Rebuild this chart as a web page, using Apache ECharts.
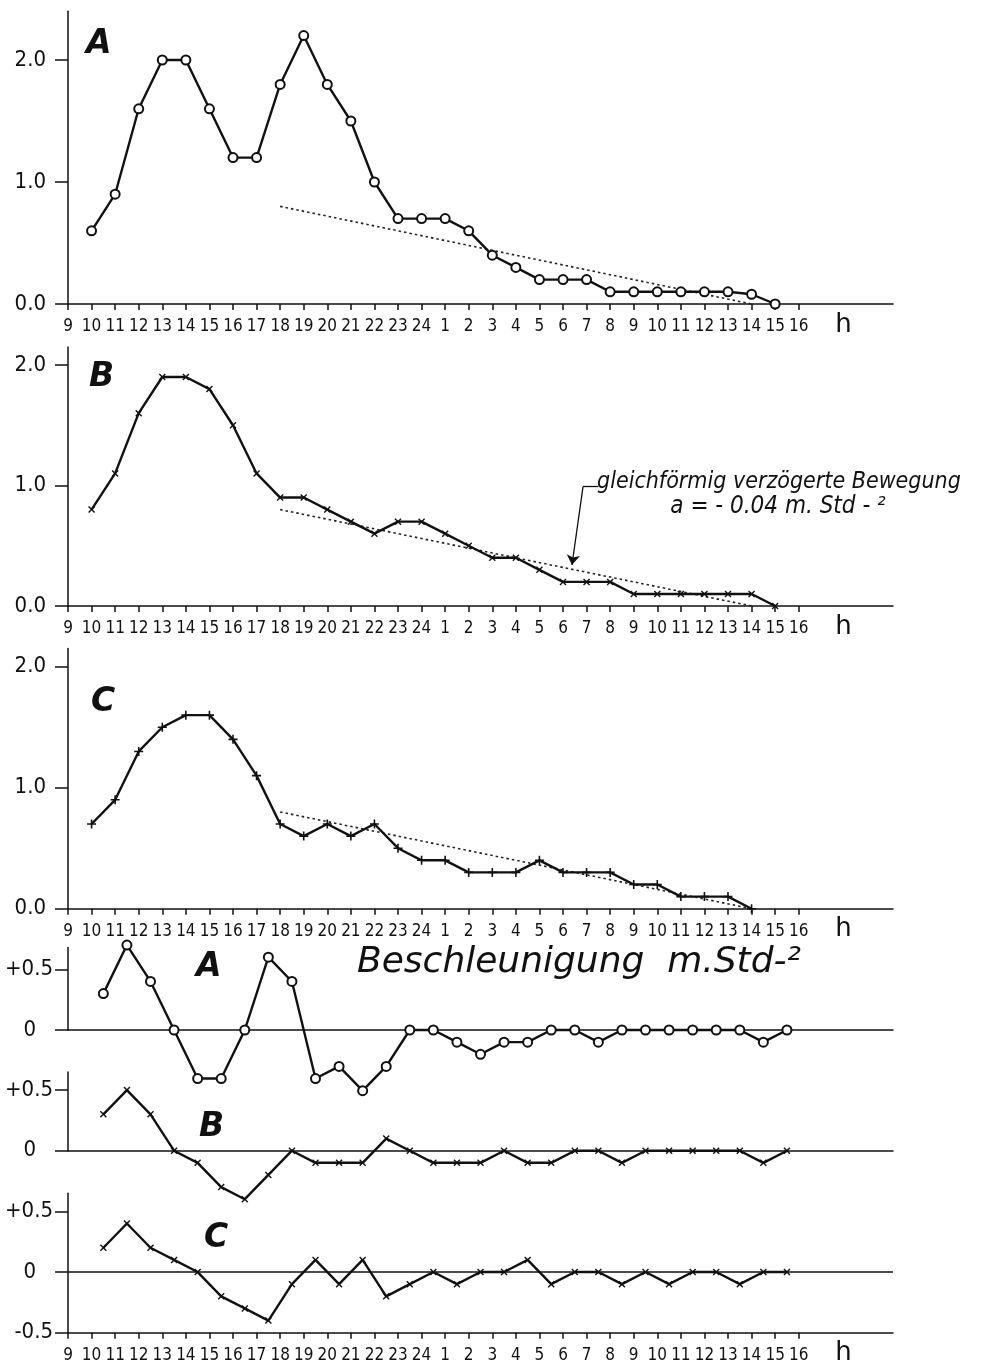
<!DOCTYPE html>
<html><head><meta charset="utf-8">
<script src="https://cdn.jsdelivr.net/npm/echarts@6/dist/echarts.min.js"></script>
<style>html,body{margin:0;padding:0;background:#fff}#c{width:1001px;height:1369px}</style>
</head><body><div id="c"></div>
<script>
// x positions: index 0 = 9 h, index 31 = 16 h of the next day
const hourLabels = ['9','10','11','12','13','14','15','16','17','18','19','20','21','22','23','24',
                    '1','2','3','4','5','6','7','8','9','10','11','12','13','14','15','16'];
// velocities (m/Std) hourly from 10 h
const velA = [0.6,0.9,1.6,2.0,2.0,1.6,1.2,1.2,1.8,2.2,1.8,1.5,1.0,0.7,0.7,0.7,0.6,0.4,0.3,0.2,0.2,0.2,0.1,0.1,0.1,0.1,0.1,0.1,0.08,0.0];
const velB = [0.8,1.1,1.6,1.9,1.9,1.8,1.5,1.1,0.9,0.9,0.8,0.7,0.6,0.7,0.7,0.6,0.5,0.4,0.4,0.3,0.2,0.2,0.2,0.1,0.1,0.1,0.1,0.1,0.1,0.0];
const velC = [0.7,0.9,1.3,1.5,1.6,1.6,1.4,1.1,0.7,0.6,0.7,0.6,0.7,0.5,0.4,0.4,0.3,0.3,0.3,0.4,0.3,0.3,0.3,0.2,0.2,0.1,0.1,0.1,0.0];
// accelerations (m/Std^2) at half hours from 10.5 h
const accA = [0.3,0.7,0.4,0,-0.4,-0.4,0,0.6,0.4,-0.4,-0.3,-0.5,-0.3,0,0,-0.1,-0.2,-0.1,-0.1,0,0,-0.1,0,0,0,0,0,0,-0.1,0];
const accB = [0.3,0.5,0.3,0,-0.1,-0.3,-0.4,-0.2,0,-0.1,-0.1,-0.1,0.1,0,-0.1,-0.1,-0.1,0,-0.1,-0.1,0,0,-0.1,0,0,0,0,0,-0.1,0];
const accC = [0.2,0.4,0.2,0.1,0,-0.2,-0.3,-0.4,-0.1,0.1,-0.1,0.1,-0.2,-0.1,0,-0.1,0,0,0.1,-0.1,0,0,-0.1,0,-0.1,0,0,-0.1,0,0];
// uniformly decelerated motion (a = -0.04): 18 h -> 14 h next day
const decelIdx = [9, 29];
const decelVal = [0.8, 0.0];
const velYTicks = [0, 1, 2];
const velYLabels = ['0.0', '1.0', '2.0'];
const accYTicksAB = [0, 0.5];
const accYTicksC = [-0.5, 0, 0.5];

const velStart = 1, accStart = 1.5;
const NUMFONT = "'DejaVu Sans Condensed','Liberation Sans',sans-serif";
const ITFONT = "'DejaVu Sans','Liberation Sans',sans-serif";
const INK = '#111';

const toVel = arr => arr.map((v, i) => [velStart + i, v]);
const toAcc = arr => arr.map((v, i) => [accStart + i, v]);
const decelData = decelIdx.map((x, i) => [x, decelVal[i]]);

const X_SYM = 'path://M0 0L10 10M10 0L0 10';
const P_SYM = 'path://M5 0L5 10M0 5L10 5';

const grids = [
  {left: 68, width: 825, top: 11.2, height: 292.8},   // vA 0..2.4
  {left: 68, width: 825, top: 346.9, height: 259.1},  // vB 0..2.15
  {left: 68, width: 825, top: 648.6, height: 260.1},  // vC 0..2.15
  {left: 68, width: 825, top: 947.5, height: 82.5},   // aA 0..0.68
  {left: 68, width: 825, top: 1071.9, height: 78.8},  // aB 0..0.65
  {left: 68, width: 825, top: 1193.2, height: 139.5}  // aC -0.5..0.65
];
const yRanges = [[0, 2.4], [0, 2.15], [0, 2.15], [0, 0.68], [0, 0.65], [-0.5, 0.65]];
const xTickVals = hourLabels.map((_, i) => i);
const xLabelVals = xTickVals.concat([32.9]);

function xAxis(gi, labeled) {
  return {
    type: 'value', gridIndex: gi, min: 0, max: 35,
    axisLine: {show: true, onZero: false, lineStyle: {color: INK, width: 1.5}},
    axisTick: {show: labeled, customValues: xTickVals, length: 6, lineStyle: {color: INK, width: 1.5}},
    axisLabel: {
      show: labeled, customValues: xLabelVals, margin: 14, color: INK,
      fontFamily: NUMFONT, fontSize: 17,
      formatter: v => { const i = Math.round(v * 10) / 10; return i === 32.9 ? '{h|h}' : (hourLabels[i] || ''); },
      rich: {h: {fontSize: 26, fontFamily: "'DejaVu Sans','Liberation Sans',sans-serif", color: INK, padding: [-6, 0, 0, 0]}}
    },
    splitLine: {show: false}
  };
}
function yAxis(gi, vals, fmt, margin) {
  return {
    type: 'value', gridIndex: gi, min: yRanges[gi][0], max: yRanges[gi][1],
    axisLine: {show: true, onZero: false, lineStyle: {color: INK, width: 1.5}},
    axisTick: {show: true, customValues: vals, length: 13, lineStyle: {color: INK, width: 1.5}},
    axisLabel: {customValues: vals, formatter: fmt, margin: margin, color: INK, fontFamily: NUMFONT, fontSize: 22,
      rich: {z: {fontFamily: NUMFONT, fontSize: 22, color: INK, padding: [0, 17, 0, 0]}}},
    splitLine: {show: false}
  };
}
const velFmt = v => velYLabels[velYTicks.indexOf(Math.round(v))];
const accFmt = v => v > 0.1 ? '+0.5' : (v < -0.1 ? '-0.5' : '{z|0}');

function curve(gi, data, sym, size, bw) {
  return {
    type: 'line', xAxisIndex: gi, yAxisIndex: gi, data: data, clip: false,
    symbol: sym, symbolSize: size, showSymbol: true, silent: true, animation: false, z: 3,
    lineStyle: {color: INK, width: 2.4},
    itemStyle: {color: INK, borderColor: INK, borderWidth: bw}
  };
}
function dotted(gi, withArrow) {
  const s = {
    type: 'line', xAxisIndex: gi, yAxisIndex: gi, data: decelData, symbol: 'none', silent: true, animation: false, z: 2,
    lineStyle: {color: '#222', width: 1.6, type: [2.5, 3]}
  };
  if (withArrow) {
    s.markLine = {
      silent: true, animation: false, symbolSize: 10,
      lineStyle: {color: INK, width: 1.3, type: 'solid'}, label: {show: false},
      data: [
        [{coord: [21.85, 0.99], symbol: 'none'}, {coord: [21.38, 0.34], symbol: 'arrow'}],
        [{coord: [21.85, 0.99], symbol: 'none'}, {coord: [22.5, 0.99], symbol: 'none'}]
      ]
    };
  }
  return s;
}
function zeroLine(gi) {
  return {
    type: 'line', xAxisIndex: gi, yAxisIndex: gi, data: [], silent: true,
    markLine: {silent: true, animation: false, symbol: 'none', label: {show: false},
      lineStyle: {color: INK, width: 1.5, type: 'solid'}, data: [{yAxis: 0}]}
  };
}

const letterStyle = (txt, x, y) => ({type: 'text', x: x, y: y, silent: true,
  style: {text: txt, fill: INK, font: "italic bold 33px 'DejaVu Sans','Liberation Sans',sans-serif", verticalAlign: 'middle'}});

const option = {
  backgroundColor: '#ffffff',
  animation: false,
  grid: grids,
  xAxis: [xAxis(0, true), xAxis(1, true), xAxis(2, true), xAxis(3, false), xAxis(4, false), xAxis(5, true)],
  yAxis: [
    yAxis(0, velYTicks, velFmt, 22), yAxis(1, velYTicks, velFmt, 22), yAxis(2, velYTicks, velFmt, 22),
    yAxis(3, accYTicksAB, accFmt, 15), yAxis(4, accYTicksAB, accFmt, 15), yAxis(5, accYTicksC, accFmt, 15)
  ],
  series: [
    dotted(0, false), dotted(1, true), dotted(2, false),
    curve(0, toVel(velA), 'emptyCircle', 9, 1.4),
    curve(1, toVel(velB), X_SYM, 6, 1.4),
    curve(2, toVel(velC), P_SYM, 9, 1.6),
    curve(3, toAcc(accA), 'emptyCircle', 9, 1.4),
    curve(4, toAcc(accB), X_SYM, 6, 1.4),
    curve(5, toAcc(accC), X_SYM, 6, 1.4),
    zeroLine(5)
  ],
  graphic: [
    letterStyle('A', 86, 44), letterStyle('B', 89, 377), letterStyle('C', 91, 702),
    letterStyle('A', 196, 967), letterStyle('B', 199, 1127), letterStyle('C', 204, 1238),
    {type: 'text', x: 357, y: 963, silent: true,
      style: {text: 'Beschleunigung  m.Std-²', fill: INK, font: "italic 36px " + ITFONT, verticalAlign: 'middle'}},
    {type: 'text', x: 597, y: 482, silent: true,
      style: {text: 'gleichförmig verzögerte Bewegung', fill: INK, font: "italic 23px 'DejaVu Sans Condensed','DejaVu Sans',sans-serif", align: 'left', verticalAlign: 'middle'}},
    {type: 'text', x: 778, y: 507, silent: true,
      style: {text: 'a = - 0.04 m. Std - ²', fill: INK, font: "italic 24px 'DejaVu Sans Condensed','DejaVu Sans',sans-serif", align: 'center', verticalAlign: 'middle'}}
  ]
};
const chart = echarts.init(document.getElementById('c'), null, {renderer: 'canvas'});
chart.setOption(option);
</script></body></html>
